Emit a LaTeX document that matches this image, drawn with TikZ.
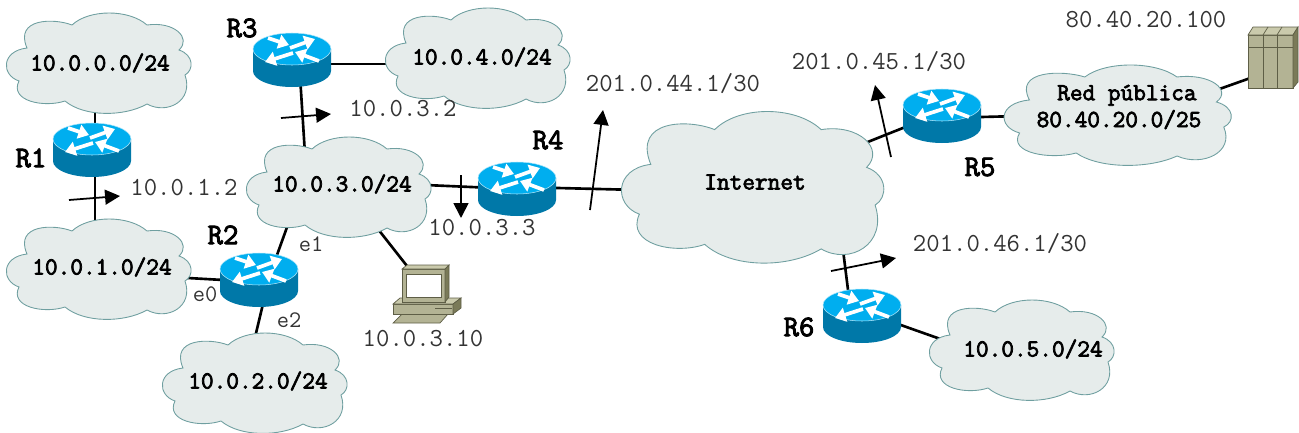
\documentclass[tikz,border=0pt]{standalone}
\usepackage{fontspec}
\usetikzlibrary{arrows.meta, backgrounds}

\newfontfamily\netfont[FakeBold=3]{Latin Modern Mono}

\definecolor{cloudfill}{HTML}{E6ECEB}
\definecolor{cloudline}{HTML}{6F9FA0}
\definecolor{routertop}{HTML}{00AEEF}
\definecolor{routerbody}{HTML}{0078A8}
\definecolor{boxfront}{HTML}{B3B394}
\definecolor{boxtop}{HTML}{CACAAC}
\definecolor{boxside}{HTML}{7A7A58}
\definecolor{boxline}{HTML}{5E5E46}
\definecolor{addrgray}{HTML}{333333}

\tikzset{
	link/.style={line width=1.5pt, black},
	arrowline/.style={line width=1pt, -{Triangle[length=8.5pt, width=8.5pt]}},
	cloudtext/.style={font=\netfont\fontsize{14}{15.3}\selectfont, align=center, inner sep=0pt},
	routername/.style={font=\netfont\fontsize{17}{18}\selectfont, inner sep=0pt},
	addr/.style={font=\ttfamily\fontsize{14.8}{16}\selectfont, text=addrgray, inner sep=0pt},
	iface/.style={font=\ttfamily\fontsize{13.5}{14}\selectfont, text=addrgray, inner sep=0pt},
	hostbox/.style={inner sep=0pt, minimum size=4pt},
	whitearrow/.style={white, line width=2.1pt, -{Triangle[length=6pt, width=8pt]}},
	netcloud/.pic={
		\draw[fill=cloudfill, draw=cloudline, line width=0.5pt]
			(-72,-15) .. controls (-85,-45) and (-45,-45) .. (-27,-38)
			.. controls (-10,-54) and (30,-54) .. (48,-38)
			.. controls (75,-42) and (93,-25) .. (80,-13)
			.. controls (95,-8) and (95,7) .. (86,12)
			.. controls (95,38) and (68,52) .. (48,41)
			.. controls (25,54) and (-15,54) .. (-34,38)
			.. controls (-55,45) and (-90,38) .. (-80,18)
			.. controls (-98,12) and (-98,-12) .. cycle;
	},
	routericon/.pic={
		\fill[routerbody] (-39,-11) -- (-39,11) arc[start angle=180, end angle=0, x radius=39, y radius=16] -- (39,-11) -- cycle;
		\fill[routertop, draw=white!70!routertop, line width=0.3pt] (0,-11) circle[x radius=39, y radius=16];
		\draw[whitearrow] (-24,-22) -- (-3,-15);
		\draw[whitearrow] (-2,-12) -- (23,-21);
		\draw[whitearrow] (1,-7) -- (-27,2);
		\draw[whitearrow] (27,1) -- (3,-8);
	},
	pcicon/.pic={
		\begin{scope}[draw=boxline, line width=0.4pt]
			\filldraw[fill=boxfront] (-33,29) -- (-24,20) -- (22,20) -- (14,29) -- cycle;
			\filldraw[fill=boxfront] (-33,10) rectangle (27,20);
			\filldraw[fill=boxtop] (-33,10) -- (-26,4) -- (35,4) -- (27,10) -- cycle;
			\filldraw[fill=boxside] (27,10) -- (35,4) -- (35,14) -- (27,20) -- cycle;
			\draw (9,14) -- (26,14);
			\filldraw[fill=boxfront] (-24,-25) rectangle (19,8);
			\filldraw[fill=boxtop] (-24,-25) -- (-19,-29) -- (23,-29) -- (19,-25) -- cycle;
			\filldraw[fill=boxside] (19,-25) -- (23,-29) -- (23,3) -- (19,8) -- cycle;
			\filldraw[fill=white] (-20,-20) rectangle (15,3);
		\end{scope}
	},
	servericon/.pic={
		\begin{scope}[draw=boxline, line width=0.4pt]
			\filldraw[fill=boxfront] (-25,-23) rectangle (20,30);
			\filldraw[fill=boxtop] (-25,-23) -- (-20,-31) -- (25,-31) -- (20,-23) -- cycle;
			\filldraw[fill=boxside] (20,-23) -- (25,-31) -- (25,24) -- (20,30) -- cycle;
			\draw (-25,-11) -- (20,-11);
			\draw (-10,-23) -- (-10,30) (4,-23) -- (4,30);
			\draw (-10,-23) -- (-5,-31) (4,-23) -- (9,-31);
		\end{scope}
	},
}

\begin{document}
\begin{tikzpicture}[x=0.02cm, y=-0.02cm]

	\useasboundingbox (0,0) rectangle (1299,433);

	% clouds
	\foreach \name/\cx/\cy/\sx/\sy/\tx/\ty/\txt in {
		c0/99/63/1/1/100/63/{10.0.0.0/24},
		c1/99/269/1/1/102/267/{10.0.1.0/24},
		c2/255/383/1/1/258/381/{10.0.2.0/24},
		c3/339/187/1/1/342/184/{10.0.3.0/24},
		c4/478/58/1/1/482/57/{10.0.4.0/24},
		c5/1022/350/1/1/1033/349/{10.0.5.0/24},
		net/753/187/1.42/1.51/755/182/{Internet},
		pub/1118/115/1.23/1/1119/107/{\hspace*{9pt}Red pública\\80.40.20.0/25}}
	{
		\pic[xscale=\sx, yscale=\sy] at (\cx,\cy) {netcloud};
		\node[cloudtext] (\name) at (\tx,\ty) {\txt};
	}

	% routers
	\foreach \name/\cx/\cy in {r1/92/150, r2/259/280, r3/292/60, r4/517/189, r5/942/116, r6/862/316}
	{
		\pic at (\cx,\cy) {routericon};
		\node[hostbox] (\name) at (\cx,\cy) {};
	}

	\pic at (426,294) {pcicon};
	\node[hostbox] (pc) at (426,294) {};
	\pic at (1273,58) {servericon};
	\node[hostbox] (srv) at (1273,58) {};

	% links
	\begin{scope}[on background layer]
		\draw[link] ([shift={(3,0)}]r1.center) -- ([shift={(-5,37)}]c0.center);
		\draw[link] ([shift={(3,0)}]r1.center) -- ([shift={(-7,-27)}]c1.center);
		\draw[link] ([shift={(0,2)}]r2.center) -- ([shift={(68,10)}]c1.center);
		\draw[link] ([shift={(9,0)}]r2.center) -- ([shift={(-47,21)}]c3.center);
		\draw[link] ([shift={(9.7,0)}]r2.center) -- ([shift={(-6,-31)}]c2.center);
		\draw[link] ([shift={(7,0)}]r3.center) -- ([shift={(-36,-14)}]c3.center);
		\draw[link] ([shift={(0,4)}]r3.center) -- ([shift={(-60,7)}]c4.center);
		\draw[link] (r4.center) -- ([shift={(60,0)}]c3.center);
		\draw[link] ([shift={(0,-2)}]r4.center) -- ([shift={(-75,9)}]net.center);
		\draw[link] ([shift={(0,-3.6)}]r5.center) -- ([shift={(65,-21)}]net.center);
		\draw[link] ([shift={(0,2)}]r5.center) -- ([shift={(-59,8)}]pub.center);
		\draw[link] ([shift={(0,12)}]srv.center) -- ([shift={(61,-4)}]pub.center);
		\draw[link] ([shift={(-10.7,0)}]r6.center) -- ([shift={(83,28)}]net.center);
		\draw[link] ([shift={(0,-4.7)}]r6.center) -- ([shift={(-53,4)}]c5.center);
		\draw[link] ([shift={(3,0)}]pc.center) -- ([shift={(21,26)}]c3.center);
	\end{scope}

	% direction arrows
	\foreach \name/\xa/\ya/\xb/\yb in {
		a1/69/200/120/196, a2/281/118/331/114, a3/461/175/461/218,
		a4/590/210/603/110, a5/891/157/875/85, a6/831/271/896/258}
	{
		\coordinate (\name s) at (\xa,\ya);
		\coordinate (\name e) at (\xb,\yb);
		\draw[arrowline] (\name s) -- (\name e);
	}

	% labels
	\foreach \name/\x/\y in {R1/31/158, R2/223/235, R3/242/28, R4/548/140, R5/980/167, R6/799/327}
		\node[routername] (lab\name) at (\x,\y) {\name};

	\foreach \name/\x/\y/\txt in {
		l1/184/188/{10.0.1.2}, l2/403/109/{10.0.3.2}, l3/482/228/{10.0.3.3},
		l4/423/339/{10.0.3.10}, l5/1146/20/{80.40.20.100},
		l6/673/84/{201.0.44.1/30}, l7/879/62/{201.0.45.1/30}, l8/1000/244/{201.0.46.1/30}}
		\node[addr] (\name) at (\x,\y) {\txt};

	\node[iface] (e0) at (205,294) {e0};
	\node[iface] (e1) at (311,244) {e1};
	\node[iface] (e2) at (289,320) {e2};

\end{tikzpicture}
\end{document}
